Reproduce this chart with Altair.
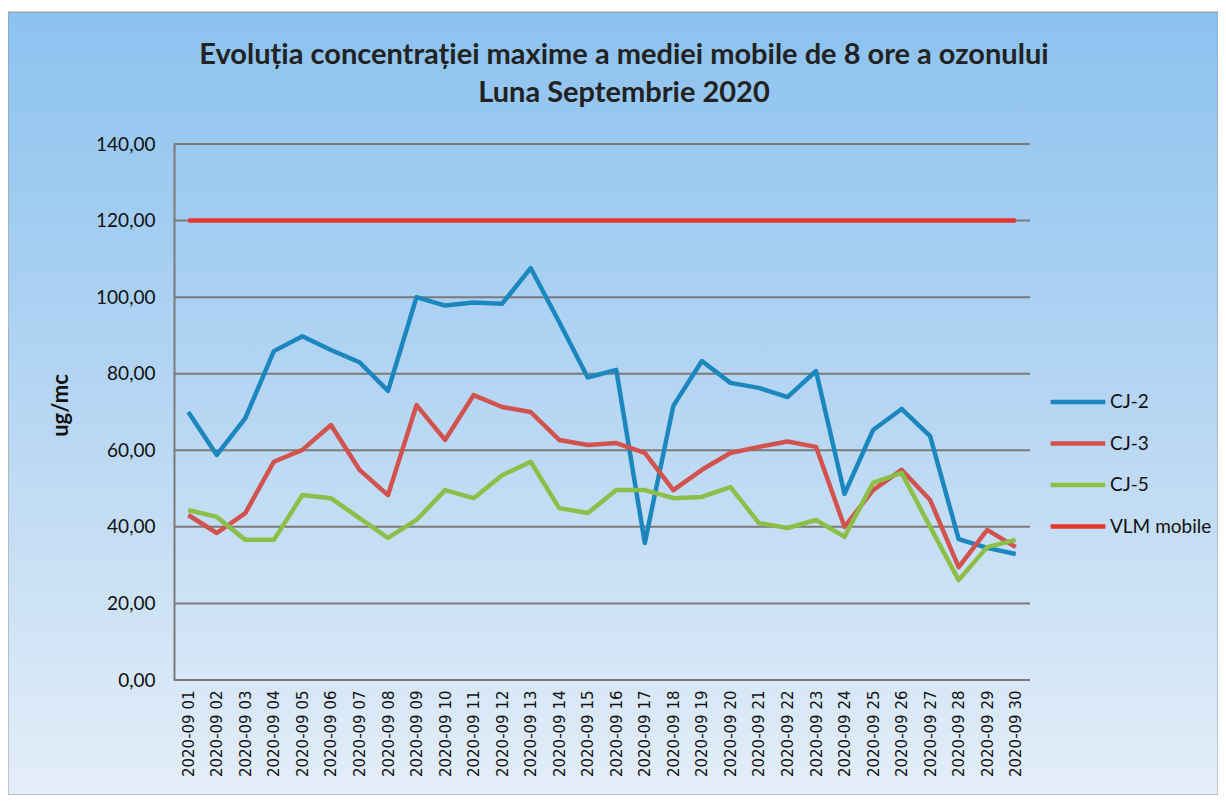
import altair as alt
import pandas as pd

days = ["2020-09 %02d" % d for d in range(1, 31)]

cj2 = [70.0, 58.8, 68.4, 85.9, 89.8, 86.2, 83.0, 75.5, 100.0, 97.8,
       98.6, 98.3, 107.6, 93.5, 79.0, 81.0, 35.8, 71.6, 83.3, 77.6,
       76.3, 73.9, 80.7, 48.6, 65.3, 70.8, 63.7, 36.8, 34.5, 32.9]
cj3 = [43.1, 38.4, 43.6, 57.0, 60.1, 66.6, 54.9, 48.3, 71.8, 62.7,
       74.4, 71.3, 70.0, 62.7, 61.4, 61.9, 59.3, 49.6, 54.9, 59.3,
       60.9, 62.3, 60.9, 40.0, 49.6, 54.9, 47.0, 29.5, 39.2, 34.7]
cj5 = [44.4, 42.6, 36.6, 36.6, 48.3, 47.5, 42.3, 37.1, 41.8, 49.6,
       47.5, 53.5, 57.0, 44.9, 43.6, 49.6, 49.6, 47.5, 47.8, 50.4,
       41.0, 39.7, 41.8, 37.4, 51.5, 54.1, 40.0, 26.1, 34.7, 36.6]
vlm = [120.0] * 30

series_names = ["CJ-2", "CJ-3", "CJ-5", "VLM mobile"]
series_colors = ["#1c86bf", "#d2534d", "#8dbf48", "#e8332f"]
y_ticks = [0, 20, 40, 60, 80, 100, 120, 140]

rows = []
for name, vals in zip(series_names, [cj2, cj3, cj5, vlm]):
    for d, v in zip(days, vals):
        rows.append({"day": d, "value": v, "series": name})
df = pd.DataFrame(rows)

W, H = 856, 536
PL, PT = 166, 136
PR = 1226 - 16 - PL - W
PB = 803 - 16 - PT - H

FONT = "Lato"

xscale = alt.Scale(type="point", domain=days, padding=0.5)
yscale = alt.Scale(domain=[0, 140], nice=False)

yaxis = alt.Axis(title="ug/mc", values=y_ticks, grid=False, ticks=False,
                 labelExpr="replace(format(datum.value, '.2f'), '.', ',')",
                 labelFont=FONT, labelFontSize=19, labelColor="#111",
                 labelPadding=19, domainColor="#7a7a7a", domainWidth=2,
                 titleFont=FONT, titleFontSize=22, titleFontWeight="bold",
                 titleColor="#111", titleX=-102, titleY=261, zindex=1)

bg = alt.Chart(pd.DataFrame({"a": [0]})).mark_rect(
    fill=alt.LinearGradient(
        gradient="linear",
        stops=[alt.GradientStop(color="#8cc2ef", offset=0),
               alt.GradientStop(color="#b6d6f3", offset=0.5),
               alt.GradientStop(color="#e4eef8", offset=1)],
        x1=0, x2=0, y1=0, y2=1),
    stroke="#9a9a9a", strokeWidth=1,
).encode(
    x=alt.value(-PL), x2=alt.value(W + PR),
    y=alt.value(12 - PT - 8), y2=alt.value(H + PB),
)

grid = alt.Chart(pd.DataFrame({"t": y_ticks})).mark_rule(
    color="#7a7a7a", strokeWidth=2
).encode(y=alt.Y("t:Q", scale=yscale, axis=yaxis))

lines = alt.Chart(df).mark_line(strokeWidth=4.5, strokeJoin="round").encode(
    x=alt.X("day:O", scale=xscale, sort=days,
            axis=alt.Axis(title=None, labelAngle=270, labelFont="DejaVu Sans",
                          labelFontSize=15, labelColor="#111", ticks=False,
                          domain=False, labelPadding=10, zindex=1)),
    y=alt.Y("value:Q", scale=yscale, axis=yaxis),
    color=alt.Color("series:N", scale=alt.Scale(domain=series_names, range=series_colors),
                    legend=alt.Legend(title=None, orient="none", legendX=874, legendY=228,
                                      symbolType="stroke", symbolSize=3000,
                                      symbolStrokeWidth=4.5, labelFont=FONT,
                                      labelFontSize=19, labelColor="#111",
                                      rowPadding=1.5, labelOffset=2, zindex=1)),
    order=alt.Order("series:N"),
)

chart = alt.layer(bg, grid, lines).properties(
    width=W, height=H,
    padding={"left": PL, "top": PT, "right": PR, "bottom": PB},
    autosize=alt.AutoSizeParams(type="none"),
    title=alt.TitleParams(
        text=["Evoluția concentrației maxime a mediei mobile de 8 ore a ozonului",
              "Luna Septembrie 2020"],
        font=FONT, fontSize=29, fontWeight="bold", color="#222",
        lineHeight=38, anchor="middle", frame="group", dx=22, offset=36, dy=132,
        zindex=1),
).configure_view(stroke=None).configure(background="white")

chart.save("out.html", embed_options={"renderer": "svg", "actions": False})
